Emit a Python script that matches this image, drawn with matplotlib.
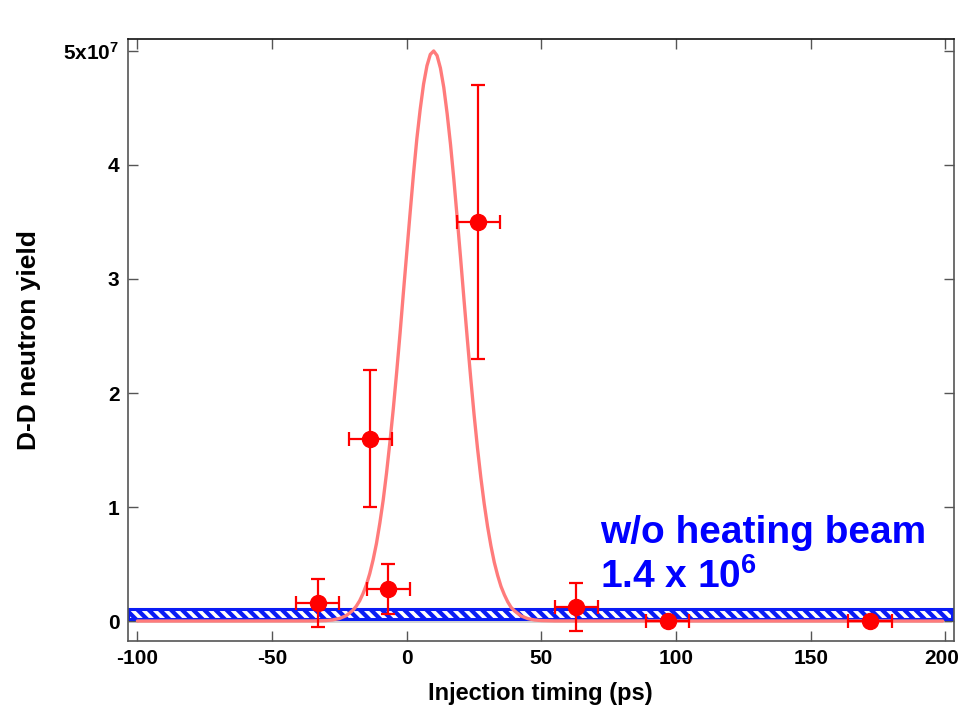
import matplotlib
matplotlib.use("Agg")
import matplotlib.pyplot as plt
import matplotlib.transforms as mtransforms
from matplotlib.patches import Rectangle

plt.rcParams['font.family'] = ['Liberation Sans', 'DejaVu Sans']
plt.rcParams['font.weight'] = 'bold'
plt.rcParams['mathtext.fontset'] = 'custom'
plt.rcParams['mathtext.rm'] = 'Liberation Sans:bold'
plt.rcParams['mathtext.bf'] = 'Liberation Sans:bold'
plt.rcParams['mathtext.default'] = 'bf'
plt.rcParams['hatch.linewidth'] = 2.6

# ---- data (yield in units of 1e7) ----
timing = [-33.0, -13.6, -6.8, 26.6, 62.9, 96.9, 172.0]
yield_1e7 = [0.155, 1.60, 0.28, 3.50, 0.125, 0.0, 0.0]
yield_err = [0.21, 0.60, 0.22, 1.20, 0.21, 0.0, 0.0]
timing_err = [8.0, 8.0, 8.0, 8.0, 8.0, 8.0, 8.0]

curve_x = [-100, -35, -30, -27.5, -25, -22.5, -20, -18.75, -17.5, -16.25, -15, -13.75,
           -12.5, -11.25, -10, -8.75, -7.5, -6.25, -5, -3.75, -2.5, -1.25,
           0, 1.25, 2.5, 3.75, 5, 6.25, 7.5, 8.75, 10, 11.25, 12.5, 13.75, 15, 16.25,
           17.5, 18.75, 20, 21.25, 22.5, 23.75, 25, 26.25, 27.5, 28.75, 30, 31.25,
           32.5, 33.75, 35, 36.25, 37.5, 38.75, 40, 42.5, 45, 47.5, 50, 55, 199]
curve_y = [0.0, 0.001, 0.004, 0.010, 0.022, 0.047, 0.094, 0.13, 0.177, 0.24, 0.317, 0.415,
           0.536, 0.68, 0.858, 1.06, 1.30, 1.57, 1.86, 2.18, 2.52, 2.88,
           3.23, 3.58, 3.92, 4.23, 4.49, 4.71, 4.87, 4.97, 5.00, 4.96, 4.85, 4.68, 4.45, 4.18,
           3.87, 3.53, 3.18, 2.82, 2.47, 2.13, 1.81, 1.52, 1.26, 1.03, 0.83, 0.66,
           0.515, 0.40, 0.303, 0.23, 0.168, 0.12, 0.089, 0.044, 0.021, 0.009, 0.004, 0.001, 0.0]

band_low, band_high = 0.015, 0.105

x_ticks = [-100, -50, 0, 50, 100, 150, 200]
y_ticks = [0, 1, 2, 3, 4, 5]
y_tick_labels = ['0', '1', '2', '3', '4', r'5x10$^{7}$']

fig = plt.figure(figsize=(9.61, 7.13), dpi=100)
ax = fig.add_axes([0.1329, 0.101, 0.8593, 0.8443])
ax.set_xlim(-103.6, 203.0)
ax.set_ylim(-0.175, 5.105)

# band "w/o heating beam"
x0, x1 = ax.get_xlim()
ax.add_patch(Rectangle((x0, band_low - 0.035), x1 - x0 - 0.5, 0.035,
                       facecolor='#bbbbbb', edgecolor='none', alpha=0.6, zorder=1))
ax.add_patch(Rectangle((x0, band_low), x1 - x0 - 0.5, band_high - band_low,
                       facecolor='#0a1cf5', edgecolor='white', hatch='\\\\\\',
                       linewidth=0, zorder=2))
ax.add_patch(Rectangle((x0, band_low), x1 - x0 - 0.5, band_high - band_low,
                       facecolor='none', edgecolor='#0a1cf5', linewidth=2.2, zorder=2.5))

ax.plot(curve_x, curve_y, color='#ff7b7b', lw=2.4, zorder=3,
        solid_capstyle='round', solid_joinstyle='round')

ax.errorbar(timing, yield_1e7, xerr=timing_err, yerr=yield_err, fmt='o',
            color='#ff0000', ecolor='#ff0000', markersize=11.5, elinewidth=1.6,
            capsize=5, capthick=1.6, zorder=4)

ax.text(71.8, 0.684, 'w/o heating beam', color='#0000ff', fontsize=28,
        fontweight='bold', va='baseline', ha='left', zorder=5)
ax.text(71.8, 0.29, r'1.4 x 10$^{6}$', color='#0000ff', fontsize=28,
        fontweight='bold', va='baseline', ha='left', zorder=5)

ax.set_xticks(x_ticks)
ax.set_xticklabels([str(t) for t in x_ticks])
ax.set_yticks(y_ticks)
ax.set_yticklabels(y_tick_labels)
ax.tick_params(direction='in', length=7, width=1, color='#555555',
               top=True, right=True, labelsize=15, pad=6)
for lab in ax.get_xticklabels() + ax.get_yticklabels():
    lab.set_fontweight('bold')
# keep the last x tick label inside the figure
last = ax.get_xticklabels()[-1]
last.set_transform(last.get_transform() +
                   mtransforms.ScaledTranslation(-4 / 100, 0, fig.dpi_scale_trans))

for side in ['left', 'bottom', 'right']:
    ax.spines[side].set_color('#555555')
    ax.spines[side].set_linewidth(1.2)
ax.spines['top'].set_color('#111111')
ax.spines['top'].set_linewidth(1.2)

ax.set_xlabel('Injection timing (ps)', fontsize=17, fontweight='bold', labelpad=10)
ax.set_ylabel('D-D neutron yield', fontsize=19, fontweight='bold', labelpad=16)

fig.savefig('out.png', dpi=100)
